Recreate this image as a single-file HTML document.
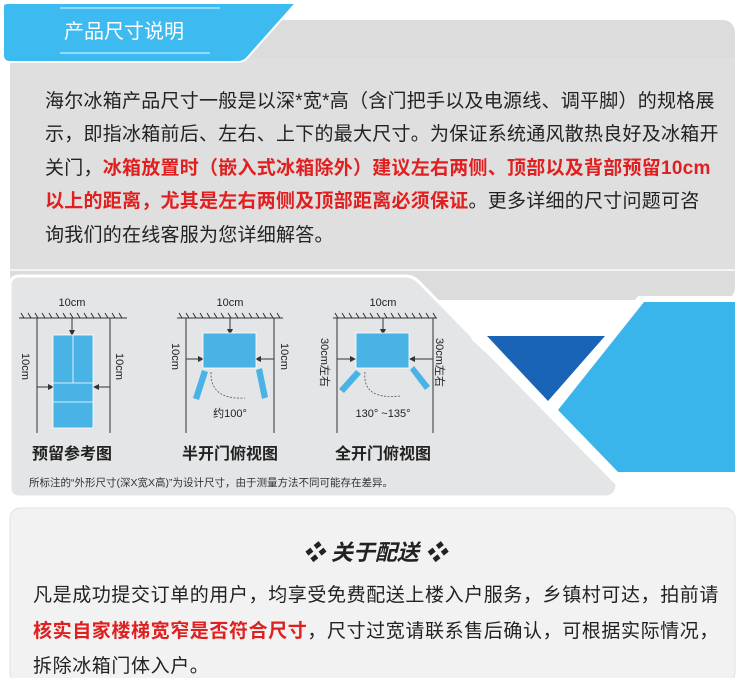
<!DOCTYPE html>
<html><head><meta charset="utf-8"><style>
body{margin:0;width:750px;height:678px;background:#fff;position:relative;overflow:hidden;font-family:"Liberation Sans","Noto Sans CJK SC",sans-serif}
.a{position:absolute;white-space:nowrap}
.t{left:45px;font-size:19px;color:#222;letter-spacing:0.25px}
.r{color:#e02020;font-weight:bold}
.b{left:33px;font-size:19px;color:#222;letter-spacing:0.6px}
</style></head><body>
<svg width="750" height="678" style="position:absolute;left:0;top:0">
<rect x="10" y="20" width="725" height="280" rx="12" fill="#dcdcdc"/>
<rect x="10" y="58" width="725" height="212" fill="#dfdfdf"/>
<line x1="10" y1="270" x2="735" y2="270" stroke="#f4f4f4" stroke-width="2"/>
<path d="M3 6 Q3 3 8 3 L296 3 L248 57 Q244 62 238 62 L10 62 Q3 62 3 55 Z" fill="#3dbaf0" stroke="#fff" stroke-width="2"/>
<line x1="60" y1="8" x2="220" y2="8" stroke="#8fdcff" stroke-width="2"/>
<line x1="60" y1="53" x2="210" y2="53" stroke="#8fdcff" stroke-width="2"/>
<path d="M10 285 Q10 276 20 276 L405 276 Q414 276 420 283 L617 484 Q617 497 605 497 L20 497 Q10 497 10 488 Z" fill="#e3e5e7" stroke="#fff" stroke-width="3"/>
<path d="M478 330 L612 330 Q622 330 616 340 L550 412 L472 340 Q468 330 478 330 Z" fill="#fff"/>
<path d="M487 336 L605 336 L548 401 Z" fill="#1a64b8"/>
<path d="M638 296 L740 296 L740 478 L615 478 L550 412 Z" fill="#fff"/>
<path d="M644 302 L735 302 L735 472 L618 472 L558 410 Z" fill="#3ab5ec"/>
<rect x="10" y="508" width="725" height="175" rx="10" fill="#f2f2f2" stroke="#e2e2e2"/>
<g stroke="#333" stroke-width="1" fill="none">
<line x1="19" y1="318" x2="127" y2="318"/>
<path d="M24 318 l-3 -5 M31 318 l-3 -5 M38 318 l-3 -5 M45 318 l-3 -5 M52 318 l-3 -5 M59 318 l-3 -5 M66 318 l-3 -5 M73 318 l-3 -5 M80 318 l-3 -5 M87 318 l-3 -5 M94 318 l-3 -5 M101 318 l-3 -5 M108 318 l-3 -5 M115 318 l-3 -5 M122 318 l-3 -5"/>
<line x1="37" y1="318" x2="37" y2="433"/><line x1="110" y1="318" x2="110" y2="433"/>
<line x1="72" y1="318" x2="72" y2="332"/>
<line x1="37" y1="387" x2="50" y2="387"/><line x1="97" y1="387" x2="110" y2="387"/>
<line x1="177" y1="318" x2="283" y2="318"/>
<path d="M182 318 l-3 -5 M189 318 l-3 -5 M196 318 l-3 -5 M203 318 l-3 -5 M210 318 l-3 -5 M217 318 l-3 -5 M224 318 l-3 -5 M231 318 l-3 -5 M238 318 l-3 -5 M245 318 l-3 -5 M252 318 l-3 -5 M259 318 l-3 -5 M266 318 l-3 -5 M273 318 l-3 -5 M280 318 l-3 -5"/>
<line x1="186" y1="318" x2="186" y2="433"/><line x1="274" y1="318" x2="274" y2="433"/>
<line x1="230" y1="318" x2="230" y2="331"/>
<line x1="186" y1="359" x2="200" y2="359"/><line x1="259" y1="359" x2="274" y2="359"/>
<line x1="333" y1="318" x2="437" y2="318"/>
<path d="M338 318 l-3 -5 M345 318 l-3 -5 M352 318 l-3 -5 M359 318 l-3 -5 M366 318 l-3 -5 M373 318 l-3 -5 M380 318 l-3 -5 M387 318 l-3 -5 M394 318 l-3 -5 M401 318 l-3 -5 M408 318 l-3 -5 M415 318 l-3 -5 M422 318 l-3 -5 M429 318 l-3 -5 M436 318 l-3 -5"/>
<line x1="337" y1="318" x2="337" y2="433"/><line x1="433" y1="318" x2="433" y2="433"/>
<line x1="383" y1="318" x2="383" y2="331"/>
<line x1="337" y1="359" x2="352" y2="359"/><line x1="413" y1="359" x2="433" y2="359"/>
</g>
<g fill="#333">
<path d="M69 330 L75 330 L72 336Z M48 384 L48 390 L54 387Z M99 384 L99 390 L93 387Z"/>
<path d="M227 329 L233 329 L230 335Z M198 356 L198 362 L204 359Z M261 356 L261 362 L255 359Z"/>
<path d="M380 329 L386 329 L383 335Z M350 356 L350 362 L356 359Z M415 356 L415 362 L409 359Z"/>
</g>
<g fill="#49b3e6" stroke="#fff" stroke-width="0.8">
<rect x="53" y="335" width="40" height="93"/>
<line x1="73" y1="335" x2="73" y2="383"/><line x1="53" y1="383" x2="93" y2="383"/><line x1="53" y1="402" x2="93" y2="402"/>
<rect x="203" y="333" width="53" height="35"/>
<rect x="356" y="333" width="53" height="35"/>
</g>
<g stroke="#555" stroke-width="0.8" fill="none" stroke-dasharray="2,1.5">
<path d="M211 372 Q210 400 245 398"/>
<path d="M365 372 Q362 400 400 396"/>
</g>
<g fill="#49b3e6">
<path d="M202 370 L208 372 L199 400 L193 398Z"/>
<path d="M256 370 L262 368 L268 397 L262 399Z"/>
<path d="M356 370 L361 374 L344 393 L339 389Z"/>
<path d="M410 370 L414 366 L430 386 L425 390Z"/>
</g>
<g font-family="Liberation Sans,Noto Sans CJK SC,sans-serif" font-size="11" fill="#222">
<text x="72" y="306" text-anchor="middle">10cm</text>
<text x="230" y="306" text-anchor="middle">10cm</text>
<text x="383" y="306" text-anchor="middle">10cm</text>
<text transform="translate(22,353) rotate(90)">10cm</text>
<text transform="translate(116,353) rotate(90)">10cm</text>
<text transform="translate(172,343) rotate(90)">10cm</text>
<text transform="translate(281,343) rotate(90)">10cm</text>
<text transform="translate(321,338) rotate(90)">30cm左右</text>
<text transform="translate(436,338) rotate(90)">30cm左右</text>
<text x="230" y="417" text-anchor="middle">约100°</text>
<text x="383" y="417" text-anchor="middle">130° ~135°</text>
<text x="72" y="459" text-anchor="middle" font-size="16" font-weight="bold">预留参考图</text>
<text x="230" y="459" text-anchor="middle" font-size="16" font-weight="bold">半开门俯视图</text>
<text x="383" y="459" text-anchor="middle" font-size="16" font-weight="bold">全开门俯视图</text>
<text x="29" y="486" font-size="10.5" fill="#333">所标注的“外形尺寸(深X宽X高)”为设计尺寸，由于测量方法不同可能存在差异。</text>
</g>
</svg>
<div class="a" style="left:64px;top:15px;font-size:20px;color:#fff">产品尺寸说明</div>
<div class="a t" style="top:86px">海尔冰箱产品尺寸一般是以深*宽*高（含门把手以及电源线、调平脚）的规格展</div>
<div class="a t" style="top:119px">示，即指冰箱前后、左右、上下的最大尺寸。为保证系统通风散热良好及冰箱开</div>
<div class="a t" style="top:153px">关门，<span class="r">冰箱放置时（嵌入式冰箱除外）建议左右两侧、顶部以及背部预留10cm</span></div>
<div class="a t" style="top:186px"><span class="r">以上的距离，尤其是左右两侧及顶部距离必须保证</span>。更多详细的尺寸问题可咨</div>
<div class="a t" style="top:220px">询我们的在线客服为您详细解答。</div>
<div class="a" style="left:0;width:750px;text-align:center;top:535px;font-size:22px;font-weight:bold;font-style:italic;color:#222">❖ 关于配送 ❖</div>
<div class="a b" style="top:580px">凡是成功提交订单的用户，均享受免费配送上楼入户服务，乡镇村可达，拍前请</div>
<div class="a b" style="top:616px"><span class="r">核实自家楼梯宽窄是否符合尺寸</span>，尺寸过宽请联系售后确认，可根据实际情况，</div>
<div class="a b" style="top:651px">拆除冰箱门体入户。</div>
</body></html>
